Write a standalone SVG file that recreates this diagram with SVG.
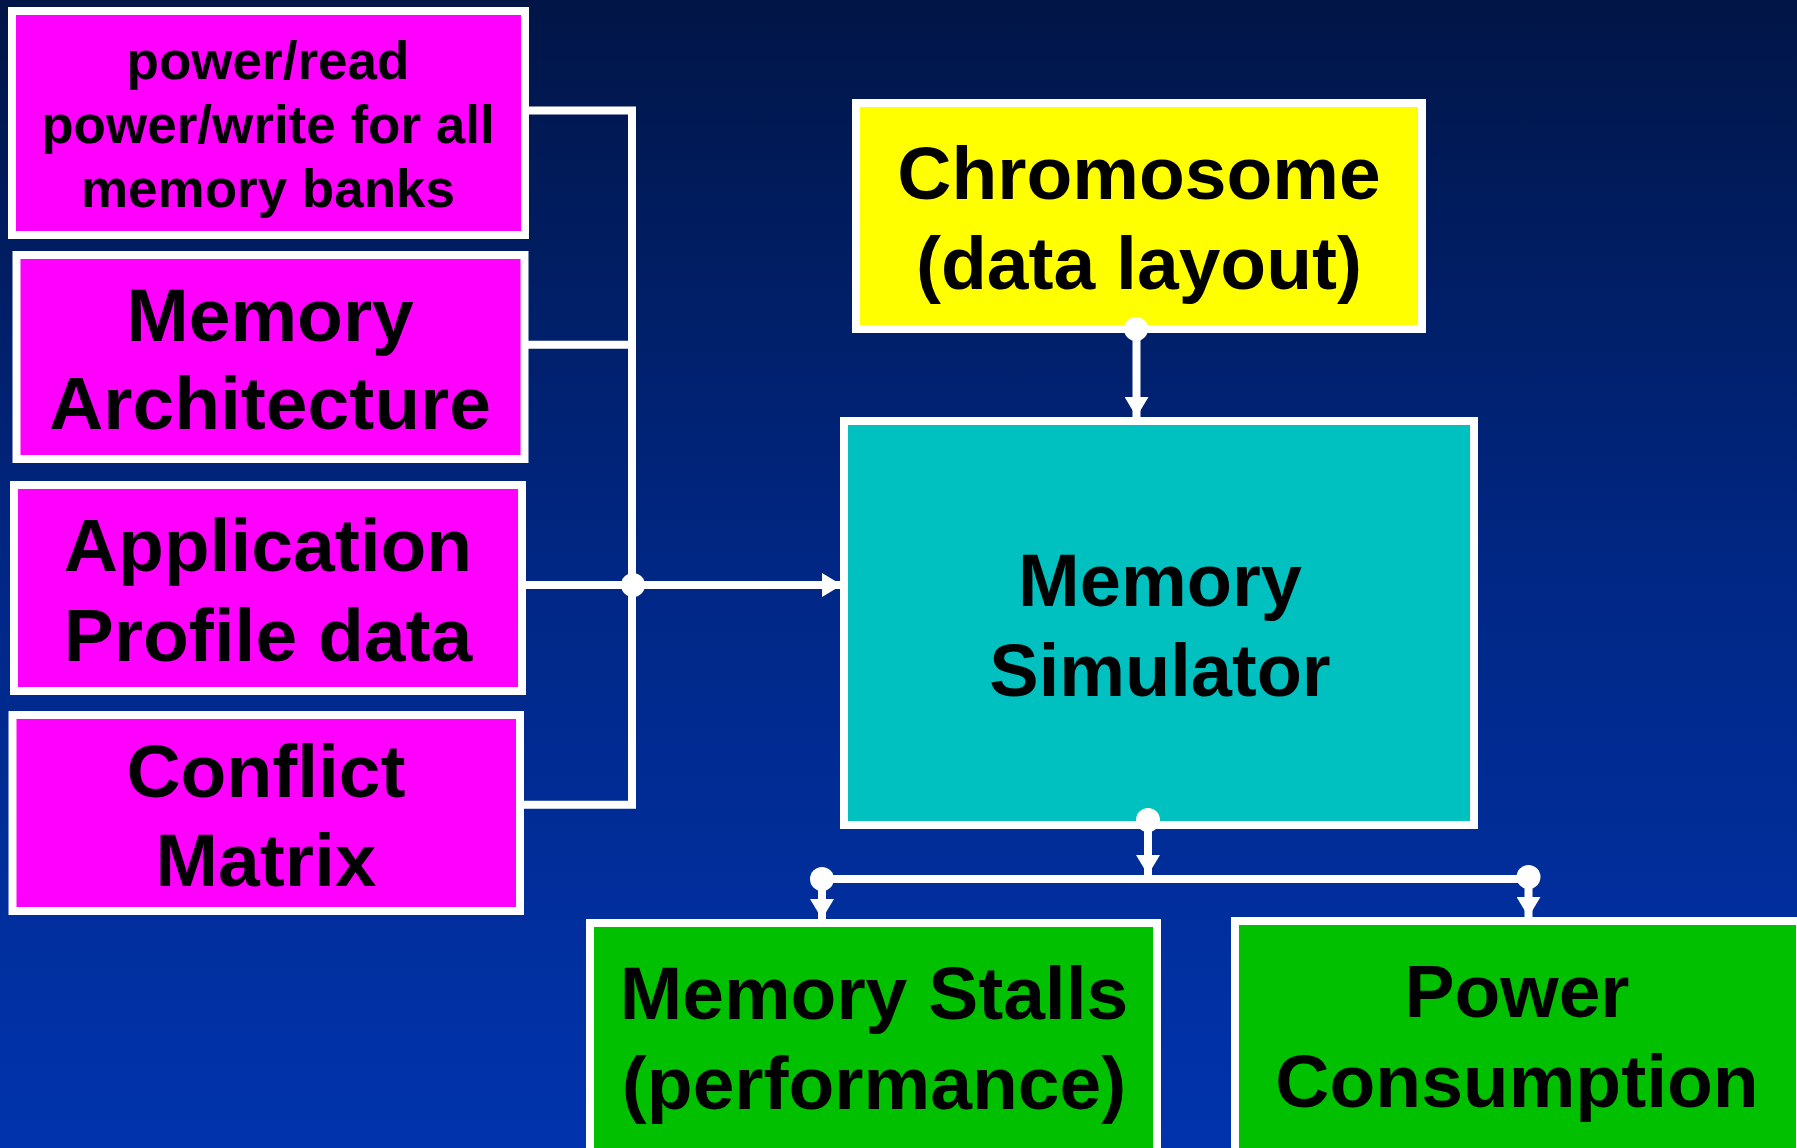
<svg xmlns="http://www.w3.org/2000/svg" width="1797" height="1148" viewBox="0 0 1797 1148">
  <defs>
    <linearGradient id="bg" x1="0" y1="0" x2="0" y2="1">
      <stop offset="0" stop-color="#011546"/>
      <stop offset="0.5" stop-color="#002785"/>
      <stop offset="1" stop-color="#0033ad"/>
    </linearGradient>
    <marker id="arrow" viewBox="0 0 20 24" refX="20" refY="12" markerWidth="20" markerHeight="24" markerUnits="userSpaceOnUse" orient="auto">
      <path d="M0,0 L20,12 L0,24 Z" fill="#ffffff"/>
    </marker>
  </defs>
  <style>
    .box { stroke: #ffffff; stroke-width: 8; }
    .inp { fill: #ff00ff; }
    .chrom { fill: #ffff00; }
    .sim { fill: #00c0c0; }
    .out { fill: #00c000; }
    .lbl { font-family: "Liberation Sans", Arial, sans-serif; font-weight: bold; fill: #000000; text-anchor: middle; }
    .big { font-size: 75px; }
    .small { font-size: 53px; }
    .wire { fill: none; stroke: #ffffff; stroke-width: 8; stroke-linejoin: miter; }
    .dot { fill: #ffffff; }
  </style>

  <rect x="0" y="0" width="1797" height="1148" fill="url(#bg)"/>

  <!-- input boxes -->
  <g id="power-params">
    <rect class="box inp" x="12" y="11" width="513" height="224"/>
    <text class="lbl small" x="268" y="79">power/read</text>
    <text class="lbl small" x="268" y="143">power/write for all</text>
    <text class="lbl small" x="268" y="207">memory banks</text>
  </g>
  <g id="memory-architecture">
    <rect class="box inp" x="16.5" y="255" width="508" height="204"/>
    <text class="lbl big" x="270" y="341">Memory</text>
    <text class="lbl big" x="270" y="429">Architecture</text>
  </g>
  <g id="profile-data">
    <rect class="box inp" x="14" y="485" width="508" height="206"/>
    <text class="lbl big" x="268" y="571">Application</text>
    <text class="lbl big" x="268" y="661">Profile data</text>
  </g>
  <g id="conflict-matrix">
    <rect class="box inp" x="12.5" y="715" width="507.5" height="196"/>
    <text class="lbl big" x="266" y="797">Conflict</text>
    <text class="lbl big" x="266" y="886">Matrix</text>
  </g>

  <g id="chromosome">
    <rect class="box chrom" x="856" y="103" width="566" height="226"/>
    <text class="lbl big" x="1139" y="199">Chromosome</text>
    <text class="lbl big" x="1139" y="289">(data layout)</text>
  </g>

  <g id="memory-simulator">
    <rect class="box sim" x="844" y="421" width="630" height="404"/>
    <text class="lbl big" x="1160" y="606" style="font-size:74px">Memory</text>
    <text class="lbl big" x="1160" y="696" style="font-size:74px">Simulator</text>
  </g>

  <g id="memory-stalls">
    <rect class="box out" x="590" y="923" width="567" height="240"/>
    <text class="lbl big" x="874" y="1019">Memory Stalls</text>
    <text class="lbl big" x="874" y="1109">(performance)</text>
  </g>
  <g id="power-consumption">
    <rect class="box out" x="1235" y="921" width="565" height="240"/>
    <text class="lbl big" x="1517" y="1017">Power</text>
    <text class="lbl big" x="1517" y="1107">Consumption</text>
  </g>

  <!-- connectors -->
  <g id="connectors">
    <path class="wire" d="M529,110.5 H632 V804.7 H524"/>
    <path class="wire" d="M524,344.7 H632"/>
    <path class="wire" d="M526,585 H842" marker-end="url(#arrow)"/>
    <circle class="dot" cx="633" cy="585" r="12"/>

    <path class="wire" d="M1136.5,329 V417" marker-end="url(#arrow)"/>
    <circle class="dot" cx="1136" cy="329" r="12"/>

    <path class="wire" d="M1148,820 V875" marker-end="url(#arrow)"/>
    <circle class="dot" cx="1148" cy="820" r="12"/>

    <path class="wire" d="M822,879 H1528"/>
    <path class="wire" d="M822,879 V919" marker-end="url(#arrow)"/>
    <path class="wire" d="M1528.5,877 V917" marker-end="url(#arrow)"/>
    <circle class="dot" cx="822" cy="879" r="12"/>
    <circle class="dot" cx="1528.5" cy="877" r="12"/>
  </g>
</svg>
